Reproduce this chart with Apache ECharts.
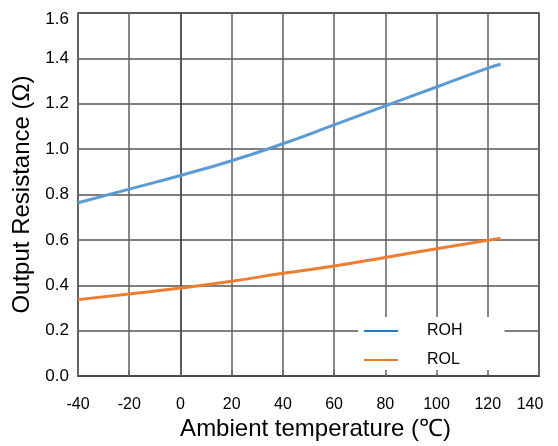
<!DOCTYPE html>
<html><head><meta charset="utf-8">
<script src="https://cdn.jsdelivr.net/npm/echarts@6/dist/echarts.min.js"></script>
<style>html,body{margin:0;padding:0;background:#fff}#c{width:558px;height:446px}</style>
</head><body><div id="c"></div>
<script>
const temps = [-40, -20, 0, 20, 40, 60, 80, 100, 120, 125];
const roh = [0.764, 0.824, 0.884, 0.949, 1.024, 1.107, 1.191, 1.274, 1.357, 1.374];
const rol = [0.337, 0.362, 0.388, 0.418, 0.453, 0.485, 0.523, 0.561, 0.598, 0.607];
const seriesNames = ['ROH', 'ROL'];
const xTitle = 'Ambient temperature (℃)';
const yTitle = 'Output Resistance (Ω)';
const font = 'Liberation Sans, Arial, sans-serif';

const chart = echarts.init(document.getElementById('c'));
chart.setOption({
  animation: false,
  grid: {left: 78, right: 19, top: 13, bottom: 66, show: true, borderColor: '#4a4a4a', borderWidth: 1.5, backgroundColor: 'transparent'},
  xAxis: [{
    type: 'value', min: -40, max: 140, interval: 20,
    name: xTitle, nameLocation: 'middle', nameGap: 40,
    nameTextStyle: {fontFamily: font, fontSize: 24, color: '#000', padding: [0, 0, 0, 14]},
    axisLine: {show: true, lineStyle: {color: '#4a4a4a', width: 1.5}},
    axisTick: {show: false},
    axisLabel: {fontFamily: font, fontSize: 16, color: '#000', margin: 20,
      formatter: v => v === 140 ? '{e|140}' : String(v),
      rich: {e: {fontFamily: font, fontSize: 16, color: '#000', padding: [0, 18, 0, 0]}}},
    splitLine: {show: true, lineStyle: {color: '#5f5f5f', width: 1.5}}
  }, {
    type: 'value', min: -40, max: 140, interval: 20, position: 'bottom', z: 6,
    axisLine: {show: true, lineStyle: {color: '#4a4a4a', width: 1.5}},
    axisTick: {show: true, inside: true, length: 6, lineStyle: {color: '#666', width: 1.5}},
    axisLabel: {show: false}, splitLine: {show: false}
  }],
  yAxis: {
    type: 'value', min: 0, max: 1.6, interval: 0.2,
    name: yTitle, nameLocation: 'middle', nameGap: 43,
    nameTextStyle: {fontFamily: font, fontSize: 24, color: '#000'},
    axisLine: {show: true, lineStyle: {color: '#4a4a4a', width: 1.5}},
    axisTick: {show: false},
    axisLabel: {fontFamily: font, fontSize: 17, color: '#000', margin: 9,
      formatter: v => Math.abs(v - 1.6) < 1e-9 ? '{t|1.6}' : v.toFixed(1),
      rich: {t: {fontFamily: font, fontSize: 17, color: '#000', padding: [13, 0, 0, 0]}}},
    splitLine: {show: true, lineStyle: {color: '#555', width: 1.5}}
  },
  legend: {
    orient: 'vertical', left: 358, top: 317, z: 4,
    backgroundColor: '#fff', padding: [6, 42, 6, 5],
    itemWidth: 34, itemHeight: 14, itemGap: 13,
    itemStyle: {color: 'transparent', borderWidth: 0},
    lineStyle: {width: 2},
    textStyle: {fontFamily: font, fontSize: 16, lineHeight: 16, color: '#000', padding: [0, 0, 0, 24]},
    data: [
      {name: seriesNames[0], lineStyle: {color: '#1f78c8', width: 2}},
      {name: seriesNames[1], lineStyle: {color: '#f07a22', width: 2}}
    ]
  },
  series: [
    {name: seriesNames[0], type: 'line', data: temps.map((t, i) => [t, roh[i]]), smooth: true, symbol: 'none',
     lineStyle: {color: '#5B9BD5', width: 3}, itemStyle: {color: '#5B9BD5'}},
    {name: seriesNames[1], type: 'line', data: temps.map((t, i) => [t, rol[i]]), smooth: true, symbol: 'none',
     lineStyle: {color: '#ED7D31', width: 3}, itemStyle: {color: '#ED7D31'}}
  ]
});
</script></body></html>
